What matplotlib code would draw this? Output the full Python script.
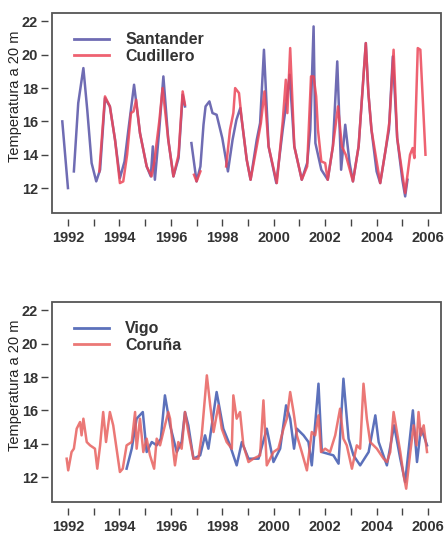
import numpy as np
import matplotlib
matplotlib.use("Agg")
import matplotlib.pyplot as plt
from matplotlib.patches import Rectangle

nan = np.nan

# Top panel: Santander / Cudillero (decimal year, temperature at 20 m)
santander_t = [1991.78, 1992.0, 1992.1, 1992.23, 1992.4, 1992.6, 1992.75, 1992.92, 1993.1, 1993.25,
               1993.44, 1993.63, 1993.83, 1994.02, 1994.2, 1994.35, 1994.57, 1994.8, 1995.06, 1995.22,
               1995.3, 1995.38, 1995.55, 1995.71, 1995.9, 1996.1, 1996.3, 1996.46, 1996.55, 1996.65,
               1996.8, 1997.0, 1997.15, 1997.27, 1997.35, 1997.5, 1997.62, 1997.78, 1998.0, 1998.22,
               1998.4, 1998.55, 1998.7, 1998.95, 1999.1, 1999.34, 1999.47, 1999.62, 1999.8, 2000.1,
               2000.35, 2000.5, 2000.62, 2000.8, 2001.09, 2001.3, 2001.42, 2001.55, 2001.62, 2001.85,
               2002.1, 2002.3, 2002.47, 2002.62, 2002.78, 2002.95, 2003.08, 2003.3, 2003.58, 2003.68,
               2003.8, 2004.0, 2004.14, 2004.35, 2004.48, 2004.63, 2004.8, 2005.0, 2005.11, 2005.2]
santander_v = [16.0, 12.0, nan, 13.0, 17.1, 19.2, 16.7, 13.5, 12.4, 13.1,
               17.4, 16.9, 14.9, 12.6, 13.6, 15.5, 18.2, 15.3, 13.3, 12.7,
               14.5, 12.5, 15.5, 18.7, 14.9, 12.7, 13.8, 17.6, 16.9, nan,
               14.7, 12.4, 13.3, 15.8, 16.9, 17.2, 16.5, 16.4, 15.0, 13.0,
               14.9, 16.1, 16.8, 13.7, 12.5, 14.9, 15.9, 20.3, 14.5, 12.3,
               15.5, 17.2, 18.8, 14.5, 12.5, 13.5, 15.5, 21.7, 14.7, 13.1,
               12.5, 14.5, 19.6, 13.1, 15.8, 13.5, 12.4, 14.5, 20.7, 17.7,
               15.5, 13.0, 12.3, 14.3, 15.5, 19.9, 15.0, 12.5, 11.5, 12.5]

cudillero_t = [1993.22, 1993.44, 1993.63, 1993.83, 1994.02, 1994.15, 1994.3, 1994.45, 1994.55, 1994.65,
               1994.8, 1995.06, 1995.25, 1995.35, 1995.55, 1995.68, 1995.9, 1996.1, 1996.3, 1996.46,
               1996.55, 1996.65, 1996.9, 1997.0, 1997.15, 1997.2, 1998.15, 1998.3, 1998.43, 1998.5,
               1998.65, 1998.75, 1998.95, 1999.1, 1999.34, 1999.5, 1999.64, 1999.8, 2000.12, 2000.35,
               2000.47, 2000.53, 2000.64, 2000.8, 2001.09, 2001.3, 2001.45, 2001.55, 2001.65, 2001.72,
               2001.85, 2002.0, 2002.1, 2002.3, 2002.5, 2002.65, 2002.8, 2003.08, 2003.3, 2003.58,
               2003.68, 2003.8, 2004.14, 2004.35, 2004.5, 2004.66, 2004.8, 2005.11, 2005.3, 2005.4,
               2005.47, 2005.6, 2005.7, 2005.9]
cudillero_v = [13.0, 17.5, 16.9, 14.9, 12.3, 12.4, 14.0, 16.5, 16.6, 17.3,
               15.3, 13.3, 12.7, 13.5, 16.0, 18.0, 14.9, 12.7, 14.0, 17.8,
               17.0, nan, 12.8, 12.4, 13.0, nan, 13.3, 15.5, 16.5, 18.0,
               17.7, 16.2, 13.7, 12.5, 14.5, 15.9, 17.8, 14.5, 12.3, 16.0,
               18.5, 16.5, 20.4, 14.5, 12.5, 13.3, 18.7, 18.7, 17.5, 15.5,
               13.6, 13.5, 12.5, 14.5, 16.9, 14.5, 14.0, 12.4, 14.5, 20.7,
               17.7, 15.5, 12.3, 14.3, 16.0, 20.3, 15.0, 11.7, 14.0, 14.4,
               13.8, 20.4, 20.3, 14.0]

# Bottom panel: Vigo / Coruña
vigo_t = [1994.28, 1994.48, 1994.67, 1994.91, 1995.06, 1995.26, 1995.45, 1995.61, 1995.77, 1995.97,
          1996.23, 1996.42, 1996.55, 1996.68, 1996.88, 1997.14, 1997.33, 1997.46, 1997.78, 1998.04,
          1998.3, 1998.56, 1998.76, 1999.02, 1999.41, 1999.73, 1999.99, 2000.25, 2000.48, 2000.64,
          2000.79, 2000.9, 2001.16, 2001.35, 2001.48, 2001.74, 2001.87, 2002.32, 2002.52, 2002.71,
          2002.91, 2003.1, 2003.36, 2003.69, 2003.95, 2004.08, 2004.4, 2004.68, 2004.92, 2005.11,
          2005.41, 2005.57, 2005.72, 2005.83, 2005.96]
vigo_v = [12.5, 13.7, 15.5, 15.9, 13.5, 14.1, 13.9, 14.3, 16.9, 15.1,
          13.5, 14.1, 15.9, 15.1, 13.1, 13.3, 14.5, 13.7, 17.1, 14.9,
          13.9, 12.7, 14.1, 13.1, 13.1, 14.9, 12.9, 13.7, 16.3, 15.5,
          13.7, 14.9, 14.5, 14.1, 12.7, 17.6, 13.5, 13.3, 12.8, 17.9,
          14.3, 13.3, 12.7, 13.5, 15.7, 14.1, 12.7, 15.1, 13.1, 11.7,
          16.0, 12.9, 14.9, 14.5, 13.9]

coruna_t = [1991.95, 1992.01, 1992.14, 1992.23, 1992.34, 1992.47, 1992.53, 1992.6, 1992.73, 1992.86,
            1993.05, 1993.14, 1993.25, 1993.37, 1993.48, 1993.63, 1993.76, 1993.89, 1994.02, 1994.13,
            1994.28, 1994.48, 1994.61, 1994.67, 1994.8, 1994.93, 1995.06, 1995.19, 1995.35, 1995.45,
            1995.58, 1995.77, 1995.9, 1995.97, 1996.1, 1996.16, 1996.29, 1996.42, 1996.55, 1996.68,
            1996.88, 1997.07, 1997.2, 1997.4, 1997.53, 1997.66, 1997.85, 1997.98, 1998.17, 1998.37,
            1998.43, 1998.56, 1998.69, 1998.82, 1999.02, 1999.21, 1999.47, 1999.6, 1999.73, 1999.99,
            2000.18, 2000.38, 2000.51, 2000.64, 2000.77, 2000.9, 2001.09, 2001.29, 2001.48, 2001.61,
            2001.74, 2001.84, 2002.0, 2002.19, 2002.39, 2002.58, 2002.71, 2002.84, 2003.04, 2003.23,
            2003.36, 2003.49, 2003.62, 2003.75, 2004.01, 2004.27, 2004.4, 2004.53, 2004.66, 2004.79,
            2004.92, 2005.05, 2005.15, 2005.31, 2005.44, 2005.55, 2005.63, 2005.72, 2005.83, 2005.96]
coruna_v = [13.1, 12.4, 13.5, 13.7, 14.9, 15.3, 14.5, 15.5, 14.1, 13.9,
            13.7, 12.5, 13.9, 15.9, 14.1, 15.9, 15.1, 13.7, 12.3, 12.5,
            13.9, 14.1, 15.9, 13.7, 15.5, 13.5, 14.3, 13.3, 12.5, 14.3,
            13.9, 15.1, 15.9, 15.5, 13.5, 12.7, 14.1, 13.7, 15.9, 14.7,
            13.1, 13.1, 14.5, 18.1, 16.3, 14.7, 16.3, 14.9, 14.1, 13.7,
            16.9, 15.5, 15.9, 13.9, 12.9, 13.1, 13.3, 16.6, 12.7, 13.5,
            13.7, 14.9, 15.5, 17.1, 15.9, 14.5, 13.5, 12.4, 14.7, 14.5,
            15.7, 13.5, 13.7, 13.5, 14.5, 16.1, 14.3, 13.9, 12.5, 13.9,
            13.7, 17.6, 15.5, 14.1, 13.7, 13.1, 12.9, 13.5, 15.9, 14.7,
            13.5, 12.1, 11.3, 13.5, 15.1, 13.9, 15.9, 14.5, 15.1, 13.5]

years = list(range(1992, 2007))
year_labels = [str(y) if y % 2 == 0 else "" for y in years]
yticks = [12, 14, 16, 18, 20, 22]

plt.rcParams["font.family"] = ["Liberation Sans", "DejaVu Sans"]

fig = plt.figure(figsize=(4.46, 5.34), dpi=100)
ax1 = fig.add_axes([0.1166, 0.601, 0.872, 0.3745])
ax2 = fig.add_axes([0.1166, 0.0599, 0.872, 0.3745])

panels = [
    (ax1, santander_t, santander_v, "Santander", "#5f5cab",
     cudillero_t, cudillero_v, "Cudillero", "#ec4658"),
    (ax2, vigo_t, vigo_v, "Vigo", "#4a62b4",
     coruna_t, coruna_v, "Coruña", "#e8605e"),
]

for ax, t1, v1, n1, c1, t2, v2, n2, c2 in panels:
    ax.plot(t1, v1, color=c1, lw=1.8, alpha=0.9, label=n1)
    ax.plot(t2, v2, color=c2, lw=1.8, alpha=0.85, label=n2)
    ax.set_xlim(1991.38, 2006.5)
    ax.set_ylim(10.5, 22.5)

    # ticks sit a little away from the frame, so offset the spines and draw the box by hand
    for s in ax.spines.values():
        s.set_visible(False)
    ax.spines["bottom"].set_visible(True)
    ax.spines["left"].set_visible(True)
    ax.spines["bottom"].set_position(("outward", 4))
    ax.spines["left"].set_position(("outward", 3))
    ax.spines["bottom"].set_color("none")
    ax.spines["left"].set_color("none")
    ax.add_patch(Rectangle((0, 0), 1, 1, transform=ax.transAxes, fill=False,
                           edgecolor="#555555", lw=1.3, clip_on=False, zorder=5))

    ax.set_xticks(years)
    ax.set_xticklabels(year_labels)
    ax.set_yticks(yticks)
    ax.tick_params(axis="x", direction="out", length=5, width=1, color="#444444",
                   labelsize=10.5, pad=4)
    ax.tick_params(axis="y", direction="out", length=5, width=1, color="#444444",
                   labelsize=10.5, pad=2)
    for lab in ax.get_xticklabels() + ax.get_yticklabels():
        lab.set_fontweight("bold")
        lab.set_color("#333333")

    ax.set_ylabel("Temperatura a 20 m", fontsize=10.5, color="#222222")
    ax.yaxis.set_label_coords(-0.076, 0.585)

    leg = ax.legend(loc="upper left", bbox_to_anchor=(0.04, 0.935), frameon=False,
                    handlelength=2.2, handletextpad=1.0, labelspacing=0.1,
                    borderaxespad=0, prop={"weight": "bold", "size": 11.5})
    for h in leg.get_lines():
        h.set_linewidth(2)
    for txt in leg.get_texts():
        txt.set_color("#333333")

fig.savefig("out.png", dpi=100)
